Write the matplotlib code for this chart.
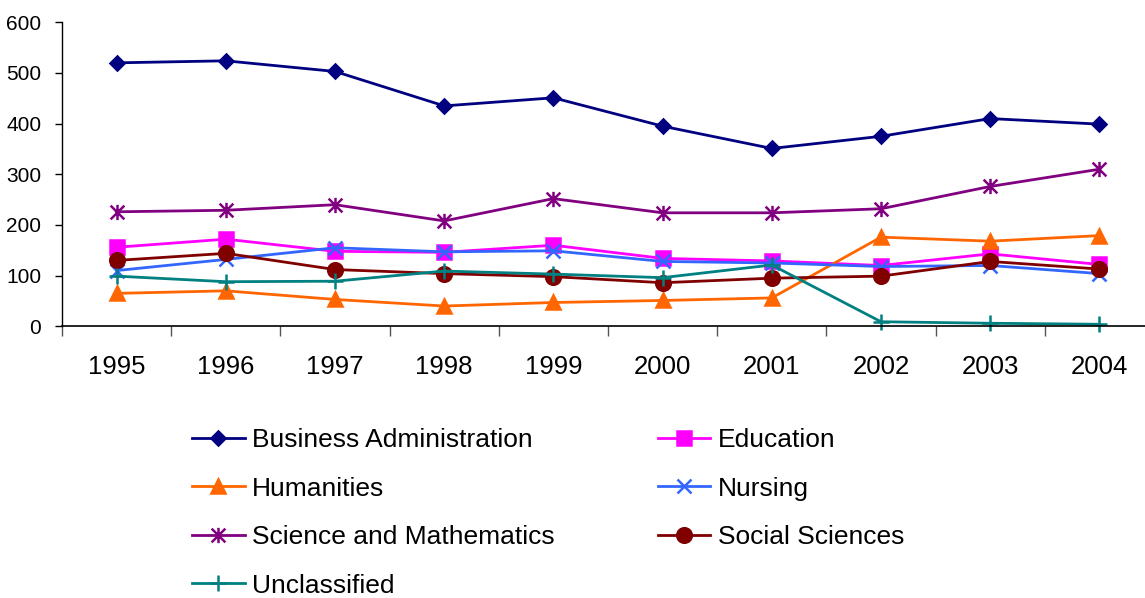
import matplotlib
matplotlib.use("Agg")
import matplotlib.pyplot as plt
from matplotlib.path import Path
import numpy as np

plt.rcParams['font.family'] = ['Liberation Sans', 'DejaVu Sans']

years = ['1995', '1996', '1997', '1998', '1999', '2000', '2001', '2002', '2003', '2004']

business = [520, 524, 503, 435, 451, 395, 351, 375, 410, 399]
education = [156, 172, 148, 146, 160, 134, 129, 120, 143, 122]
humanities = [65, 70, 53, 40, 47, 51, 56, 176, 168, 179]
nursing = [110, 132, 155, 147, 149, 128, 125, 118, 120, 104]
science = [226, 229, 240, 208, 252, 224, 224, 232, 276, 310]
social = [130, 144, 112, 104, 98, 86, 95, 99, 128, 113]
unclassified = [99, 88, 89, 109, 103, 96, 121, 9, 6, 4]

# excel style asterisk: x with a vertical bar
star = Path([(0, -1), (0, 1), (-0.9, -0.9), (0.9, 0.9), (-0.9, 0.9), (0.9, -0.9)],
            [Path.MOVETO, Path.LINETO, Path.MOVETO, Path.LINETO, Path.MOVETO, Path.LINETO])

series = [
    ('Business Administration', business, '#000080', 'D', 7.4),
    ('Education', education, '#FF00FF', 's', 10),
    ('Humanities', humanities, '#FF6600', '^', 10.5),
    ('Nursing', nursing, '#3366FF', 'x', 10),
    ('Science and Mathematics', science, '#800080', star, 11),
    ('Social Sciences', social, '#800000', 'o', 10.5),
    ('Unclassified', unclassified, '#008080', '+', 11),
]

fig = plt.figure(figsize=(11.45, 5.98), dpi=100)
ax = fig.add_axes([62 / 1145, 1 - 326.3 / 598, 1092 / 1145, 304 / 598])

x = np.arange(len(years))
handles = {}
for name, vals, color, marker, ms in series:
    line, = ax.plot(x, vals, color=color, lw=2.0, marker=marker, markersize=ms,
                    markerfacecolor=color, markeredgecolor=color, markeredgewidth=1.8,
                    label=name, clip_on=False)
    handles[name] = line

ax.set_xlim(-0.5, 9.5)
ax.set_ylim(0, 600)
ax.set_yticks(range(0, 601, 100))
ax.set_yticklabels([str(v) for v in range(0, 601, 100)], fontsize=15)
ax.tick_params(axis='y', length=5, width=1, pad=10, direction='out')

ax.set_xticks(np.arange(-0.5, 10, 1))
ax.set_xticklabels([])
ax.set_xticks(x, minor=True)
ax.set_xticklabels(years, minor=True, fontsize=18.5)
ax.tick_params(axis='x', which='major', length=7, width=1, color='#555555', direction='out')
ax.tick_params(axis='x', which='minor', length=0, pad=21)

ax.spines['top'].set_visible(False)
ax.spines['right'].set_visible(False)
ax.spines['left'].set_linewidth(1)
ax.spines['bottom'].set_linewidth(1.2)

order = ['Business Administration', 'Humanities', 'Science and Mathematics', 'Unclassified',
         'Education', 'Nursing', 'Social Sciences']
fig.legend([handles[n] for n in order], order, loc='upper left',
           bbox_to_anchor=(192 / 1145, 1 - 428 / 598), ncol=2, frameon=False,
           fontsize=19, handlelength=2.0, handletextpad=0.28, columnspacing=3.9,
           labelspacing=0.93, borderpad=0, borderaxespad=0)

fig.savefig('out.png', dpi=100)
